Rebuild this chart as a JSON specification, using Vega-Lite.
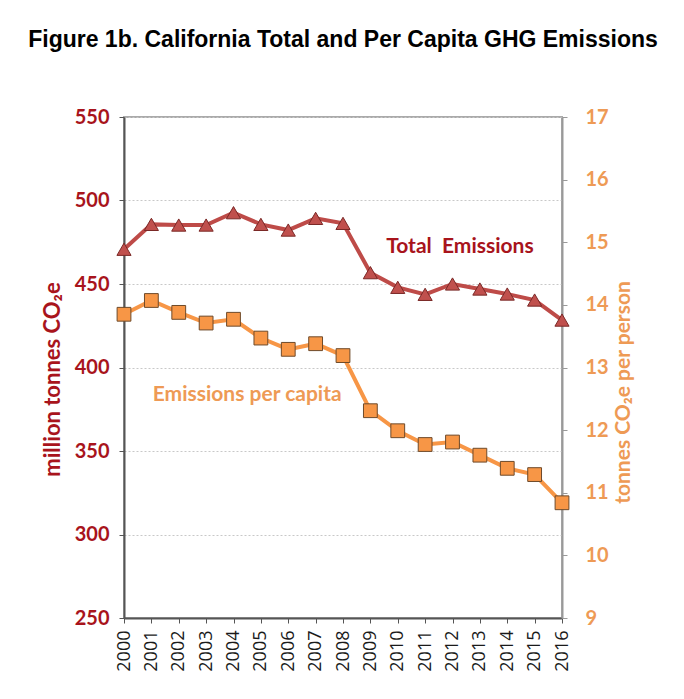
{
  "$schema": "https://vega.github.io/schema/vega-lite/v6.json",
  "description": "California total and per capita GHG emissions, 2000-2016.",
  "autosize": {"type": "none"},
  "padding": {"left": 124, "top": 117, "right": 122, "bottom": 81},
  "width": 438,
  "height": 501,
  "title": {
    "text": "Figure 1b. California Total and Per Capita GHG Emissions",
    "font": "Liberation Sans",
    "fontSize": 23,
    "fontWeight": "bold",
    "color": "#000000",
    "anchor": "middle",
    "offset": 55
  },
  "datasets": {
    "emissions": [
      {"year": 2000, "total": 470.8, "percapita": 13.85},
      {"year": 2001, "total": 485.7, "percapita": 14.07},
      {"year": 2002, "total": 485.3, "percapita": 13.88},
      {"year": 2003, "total": 485.3, "percapita": 13.71},
      {"year": 2004, "total": 492.7, "percapita": 13.77},
      {"year": 2005, "total": 485.7, "percapita": 13.47},
      {"year": 2006, "total": 482.3, "percapita": 13.29},
      {"year": 2007, "total": 489.3, "percapita": 13.38},
      {"year": 2008, "total": 486.3, "percapita": 13.19},
      {"year": 2009, "total": 456.8, "percapita": 12.31},
      {"year": 2010, "total": 448.0, "percapita": 11.99},
      {"year": 2011, "total": 443.8, "percapita": 11.77},
      {"year": 2012, "total": 450.0, "percapita": 11.81},
      {"year": 2013, "total": 447.0, "percapita": 11.60},
      {"year": 2014, "total": 444.0, "percapita": 11.39},
      {"year": 2015, "total": 440.4, "percapita": 11.29},
      {"year": 2016, "total": 428.4, "percapita": 10.84}
    ],
    "totalLabel": [{"label": "Total\u00a0 Emissions", "year": 2012.27, "total": 472}],
    "capitaLabel": [{"label": "Emissions per capita", "year": 2004.5, "percapita": 12.56}]
  },
  "encoding": {
    "x": {
      "field": "year",
      "type": "quantitative",
      "scale": {"domain": [2000, 2016], "nice": false, "zero": false},
      "axis": {
        "title": null,
        "values": [2000, 2001, 2002, 2003, 2004, 2005, 2006, 2007, 2008, 2009, 2010, 2011, 2012, 2013, 2014, 2015, 2016],
        "format": "d",
        "labelAngle": -90,
        "labelAlign": "right",
        "labelBaseline": "middle",
        "labelFont": "Open Sans",
        "labelFontSize": 18,
        "labelColor": "#1A1A1A",
        "labelPadding": 7,
        "labelOverlap": false,
        "grid": false,
        "domainColor": "#555555",
        "domainWidth": 2,
        "tickColor": "#555555",
        "tickSize": 5
      }
    }
  },
  "layer": [
    {
      "encoding": {
        "y": {
          "field": "total",
          "type": "quantitative",
          "scale": {"domain": [250, 550], "nice": false, "zero": false},
          "axis": {
            "title": "million tonnes CO₂e",
            "titleFont": "Lato",
            "titleFontSize": 22,
            "titleFontWeight": "bold",
            "titleColor": "#A8141C",
            "titlePadding": 10,
            "titleY": 262,
            "values": [250, 300, 350, 400, 450, 500, 550],
            "labelFont": "Lato",
            "labelFontSize": 20,
            "labelFontWeight": "bold",
            "labelColor": "#A8141C",
            "labelPadding": 10,
            "grid": true,
            "gridColor": "#C8C8C8",
            "gridDash": [2, 2],
            "domainColor": "#555555",
            "domainWidth": 2,
            "tickColor": "#555555",
            "tickSize": 5
          }
        }
      },
      "layer": [
        {
          "data": {"name": "emissions"},
          "mark": {"type": "line", "color": "#BE4B48", "strokeWidth": 4}
        },
        {
          "data": {"name": "emissions"},
          "mark": {
            "type": "point",
            "shape": "triangle-up",
            "filled": true,
            "size": 200,
            "fill": "#C0504D",
            "stroke": "#7A2826",
            "strokeWidth": 1,
            "opacity": 1
          }
        },
        {
          "data": {"name": "totalLabel"},
          "mark": {
            "type": "text",
            "font": "Lato",
            "fontSize": 21,
            "fontWeight": "bold",
            "color": "#A8141C",
            "align": "center",
            "baseline": "middle"
          },
          "encoding": {"text": {"field": "label"}}
        }
      ]
    },
    {
      "encoding": {
        "y": {
          "field": "percapita",
          "type": "quantitative",
          "scale": {"domain": [9, 17], "nice": false, "zero": false},
          "axis": {
            "orient": "right",
            "title": "tonnes CO₂e per person",
            "titleFont": "Lato",
            "titleFontSize": 21,
            "titleFontWeight": "bold",
            "titleColor": "#EE9A55",
            "titleAngle": 270,
            "titleBaseline": "top",
            "titlePadding": 4,
            "titleY": 275,
            "values": [9, 10, 11, 12, 13, 14, 15, 16, 17],
            "labelFont": "Lato",
            "labelFontSize": 20,
            "labelFontWeight": "bold",
            "labelColor": "#EE9A55",
            "labelPadding": 18,
            "grid": false,
            "domainColor": "#999999",
            "domainWidth": 2,
            "tickColor": "#999999",
            "tickSize": 5
          }
        }
      },
      "layer": [
        {
          "data": {"name": "emissions"},
          "mark": {"type": "line", "color": "#F79646", "strokeWidth": 4}
        },
        {
          "data": {"name": "emissions"},
          "mark": {
            "type": "point",
            "shape": "square",
            "filled": true,
            "size": 190,
            "fill": "#F79646",
            "stroke": "#6E4A2A",
            "strokeWidth": 1,
            "opacity": 1
          }
        },
        {
          "data": {"name": "capitaLabel"},
          "mark": {
            "type": "text",
            "font": "Lato",
            "fontSize": 21,
            "fontWeight": "bold",
            "color": "#EE9A55",
            "align": "center",
            "baseline": "middle"
          },
          "encoding": {"text": {"field": "label"}}
        }
      ]
    }
  ],
  "resolve": {"scale": {"y": "independent"}},
  "config": {
    "background": "#FFFFFF",
    "view": {"stroke": "#AAAAAA", "strokeWidth": 2}
  }
}
